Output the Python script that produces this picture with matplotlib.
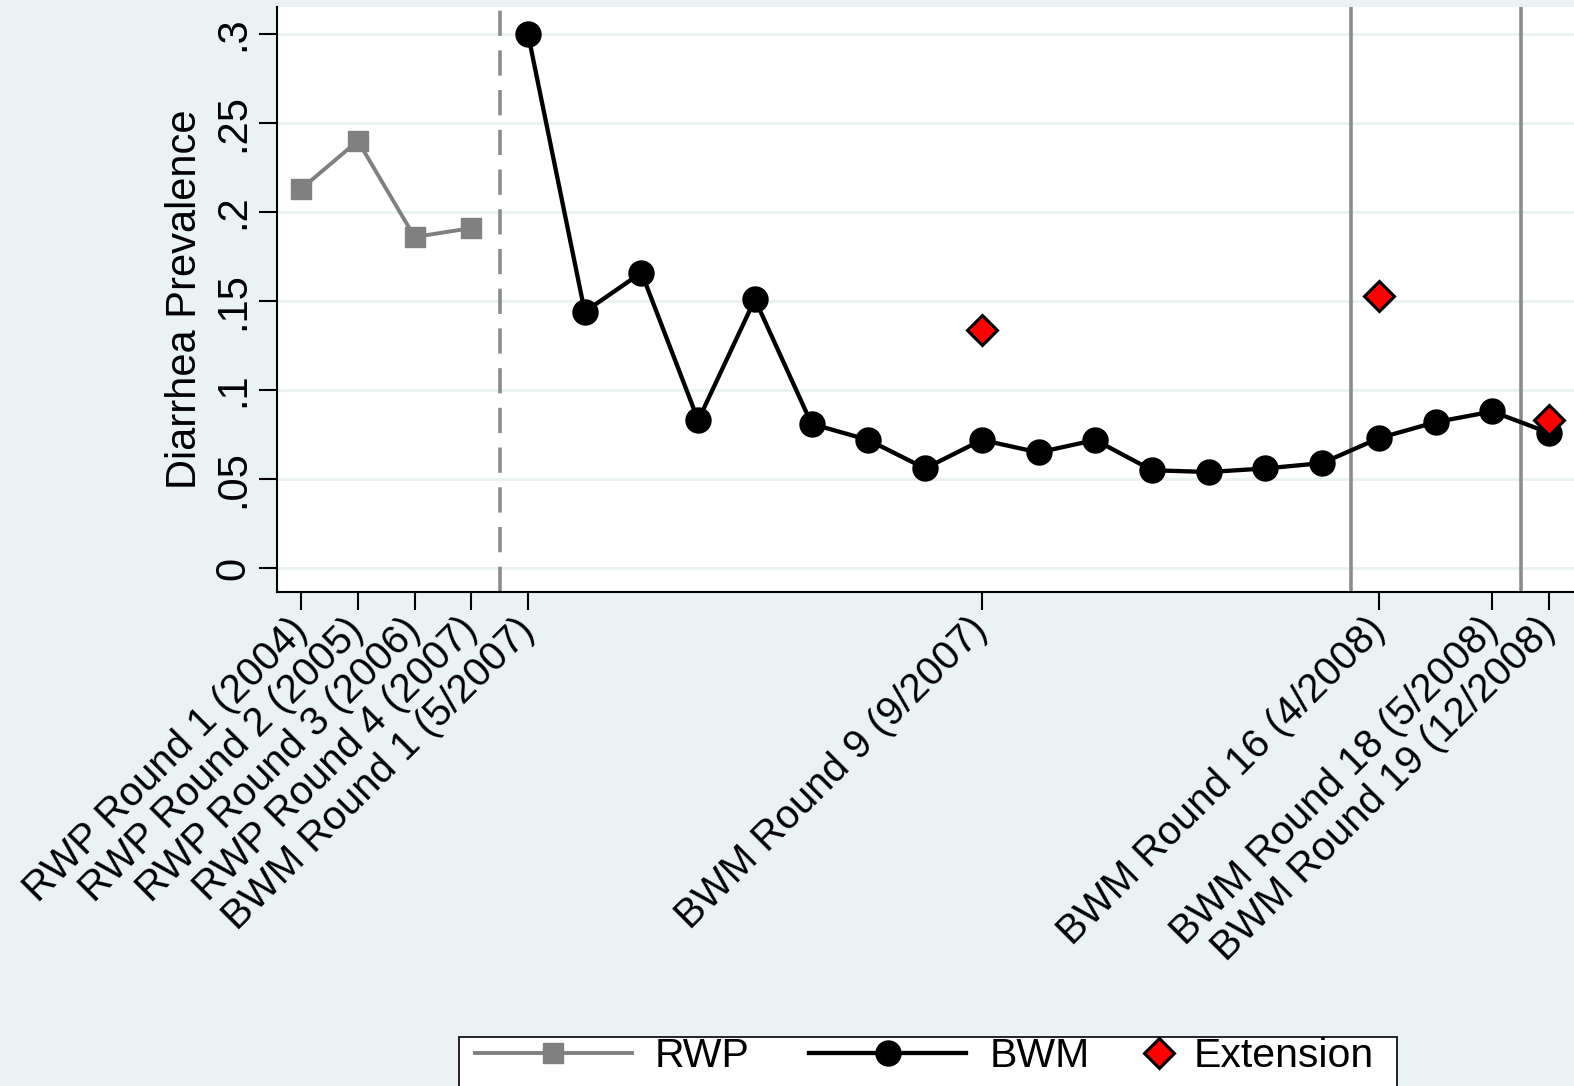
import matplotlib
matplotlib.use('Agg')
import matplotlib.pyplot as plt
from matplotlib.patches import Rectangle

plt.rcParams['font.family'] = ['Liberation Sans', 'DejaVu Sans']

# данные
rwp_x = [1, 2, 3, 4]
rwp_y = [0.213, 0.240, 0.186, 0.191]

bwm_round = list(range(1, 20))
bwm_y = [0.300, 0.144, 0.166, 0.083, 0.151, 0.081, 0.072, 0.056, 0.072, 0.065,
         0.072, 0.055, 0.054, 0.056, 0.059, 0.073, 0.082, 0.088, 0.076]
bwm_x = [r + 4 for r in bwm_round]

ext_x = [13, 20, 23]
ext_y = [0.134, 0.153, 0.083]

tick_pos = [1, 2, 3, 4, 5, 13, 20, 22, 23]
tick_labels = ['RWP Round 1 (2004)', 'RWP Round 2 (2005)', 'RWP Round 3 (2006)',
               'RWP Round 4 (2007)', 'BWM Round 1 (5/2007)', 'BWM Round 9 (9/2007)',
               'BWM Round 16 (4/2008)', 'BWM Round 18 (5/2008)', 'BWM Round 19 (12/2008)']
ytick_vals = [0, 0.05, 0.1, 0.15, 0.2, 0.25, 0.3]
ytick_labels = ['0', '.05', '.1', '.15', '.2', '.25', '.3']

dashed_x = 4.5
solid_x = [19.5, 22.5]

bg = '#EAF2F3'
grey = '#808080'

fig = plt.figure(figsize=(15.74, 10.86), dpi=100, facecolor=bg)
ax = fig.add_axes([0.176, 0.4547, 0.824, 0.5389])
ax.set_facecolor('white')

ax.set_xlim(0.575, 23.44)
ax.set_ylim(-0.0135, 0.3152)

ax.set_axisbelow(True)
ax.grid(axis='y', color=bg, linewidth=2.2)
ax.grid(axis='x', visible=False)

ax.axvline(dashed_x, color='#8C8C8C', linewidth=2.6, linestyle=(0, (7, 4)), zorder=1)
for sx in solid_x:
    ax.axvline(sx, color='#8C8C8C', linewidth=2.6, zorder=1)

l1, = ax.plot(rwp_x, rwp_y, color=grey, linewidth=2.8, marker='s', markersize=15,
              markerfacecolor=grey, markeredgecolor=grey, zorder=3)
l2, = ax.plot(bwm_x, bwm_y, color='black', linewidth=3.1, marker='o', markersize=18,
              markerfacecolor='black', markeredgecolor='black', zorder=3)
l3, = ax.plot(ext_x, ext_y, linestyle='none', marker='D', markersize=15.5,
              markerfacecolor='red', markeredgecolor='black', markeredgewidth=2.2, zorder=4)

ax.set_xticks(tick_pos)
ax.set_xticklabels(tick_labels, rotation=45, ha='right', va='center', rotation_mode='anchor')
ax.set_yticks(ytick_vals)
ax.set_yticklabels(ytick_labels, rotation=90, va='center')

ax.tick_params(axis='x', direction='out', length=13, width=1.5, pad=10, labelsize=29)
ax.tick_params(axis='y', direction='out', length=13, width=1.5, pad=4, labelsize=30)

ax.set_ylabel('Diarrhea Prevalence', fontsize=30, labelpad=6)

for s in ['top', 'right']:
    ax.spines[s].set_visible(False)
for s in ['left', 'bottom']:
    ax.spines[s].set_linewidth(1.5)
    ax.spines[s].set_color('black')

# рамка легенды (обрезана снизу, как на оригинале)
box = Rectangle((0.2914, -0.1), 0.5963, 0.1453, transform=fig.transFigure,
                facecolor='white', edgecolor='black', linewidth=1.2, zorder=1)
fig.add_artist(box)

fig.legend(handles=[l1, l2], labels=['RWP', 'BWM'], loc='center left',
           bbox_to_anchor=(0.3017, 0.0275), ncol=2, frameon=False, fontsize=29.5,
           handlelength=3.83, handletextpad=0.56, columnspacing=1.46,
           borderpad=0, borderaxespad=0)
fig.legend(handles=[l3], labels=['Extension'], loc='center left',
           bbox_to_anchor=(0.7235, 0.0275), frameon=False, fontsize=29.5,
           handlelength=1.0, handletextpad=0.35, borderpad=0, borderaxespad=0)

fig.savefig('out.png', dpi=100, facecolor=fig.get_facecolor())
